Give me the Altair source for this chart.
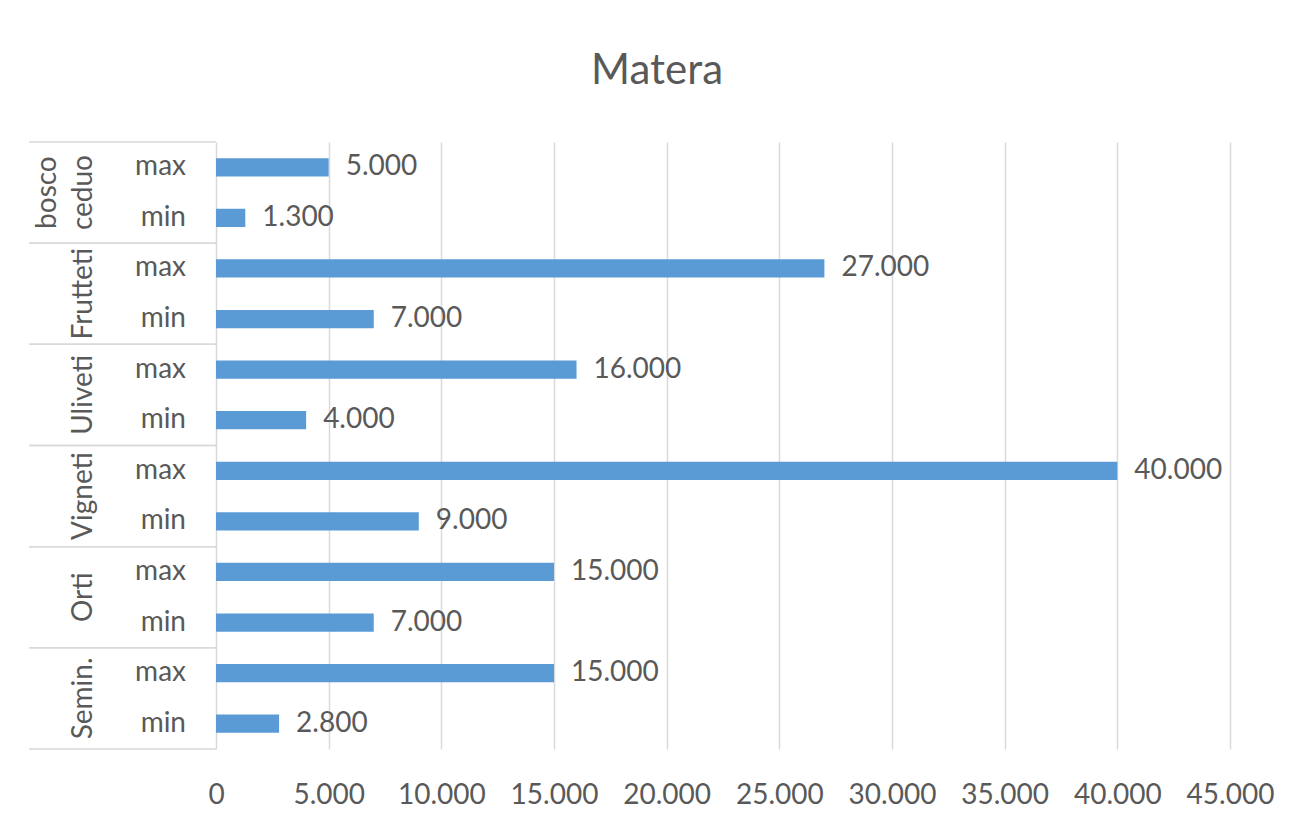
import altair as alt
import pandas as pd

groups = ["bosco ceduo", "Frutteti", "Uliveti", "Vigneti", "Orti", "Semin."]
levels = ["max", "min"]
max_vals = [5000, 27000, 16000, 40000, 15000, 15000]
min_vals = [1300, 7000, 4000, 9000, 7000, 2800]
x_ticks = [0, 5000, 10000, 15000, 20000, 25000, 30000, 35000, 40000, 45000]

rows = []
for g, mx, mn in zip(groups, max_vals, min_vals):
    rows.append({"group": g, "level": "max", "row": g + "|max", "value": mx})
    rows.append({"group": g, "level": "min", "row": g + "|min", "value": mn})
df = pd.DataFrame(rows)
row_order = list(df["row"])

# group names split into wrapped lines (last line sits next to the level labels)
gl = []
for g in groups:
    parts = g.split(" ")
    gl.append({"group": g, "first": " ".join(parts[:-1]), "last": parts[-1]})
gdf = pd.DataFrame(gl)

FONT = "Lato"
TXT = "#595959"
GRID = "#d9d9d9"
H = 607
FS = 28

fmt = "replace(format(datum.value, ','), ',', '.')"

# ---- left panel: multi-level category axis ----
left_w = 187
y_rows = alt.Y("row:N", sort=row_order, axis=None,
               scale=alt.Scale(paddingInner=0, paddingOuter=0))


def y_grp(bp=0.5):
    return alt.Y("group:N", sort=groups, axis=None, bandPosition=bp,
                 scale=alt.Scale(paddingInner=0, paddingOuter=0))


level_text = alt.Chart(df).mark_text(
    align="right", baseline="middle", font=FONT, fontSize=FS, color=TXT
).encode(y=y_rows, x=alt.value(157), text="level:N")

group_last = alt.Chart(gdf).mark_text(
    align="center", baseline="bottom", angle=270, font=FONT, fontSize=FS,
    color=TXT
).encode(y=y_grp(), x=alt.value(69), text="last:N")

group_first = alt.Chart(gdf).mark_text(
    align="center", baseline="bottom", angle=270, font=FONT, fontSize=FS,
    color=TXT
).encode(y=y_grp(), x=alt.value(33), text="first:N")

sep_top = alt.Chart(gdf).mark_rule(color=GRID, strokeWidth=1.5).encode(
    y=y_grp(0), x=alt.value(0), x2=alt.value(left_w))
sep_bot = alt.Chart(gdf).mark_rule(color=GRID, strokeWidth=1.5).encode(
    y=y_grp(1), x=alt.value(0), x2=alt.value(left_w))

left = alt.layer(sep_top, sep_bot, group_first, group_last, level_text).resolve_scale(
    y="independent").properties(width=left_w, height=H)

# ---- right panel: bars ----
base = alt.Chart(df).transform_calculate(
    label="replace(format(datum.value, ','), ',', '.')")

ybar = alt.Y("row:N", sort=row_order,
             scale=alt.Scale(paddingInner=0.64, paddingOuter=0.32),
             axis=None)
xbar = alt.X("value:Q", scale=alt.Scale(domain=[0, 45000], nice=False),
             axis=alt.Axis(values=x_ticks, title=None, domain=False, ticks=False,
                           grid=True, gridColor=GRID, gridWidth=1.5,
                           labelExpr=fmt, labelFont=FONT, labelFontSize=FS,
                           labelColor=TXT, labelPadding=32, labelFlush=False))

bars = base.mark_bar(color="#5B9BD5").encode(x=xbar, y=ybar)
labels = base.mark_text(align="left", baseline="middle", dx=17, font=FONT,
                        fontSize=FS, color=TXT).encode(
    x="value:Q", y=alt.Y("row:N", sort=row_order), text="label:N")

right = alt.layer(bars, labels).properties(width=1014, height=H)

chart = alt.hconcat(left, right, spacing=0, bounds="flush").properties(
    title=alt.Title("Matera", font=FONT, fontSize=42, color=TXT,
                    fontWeight="normal", anchor="middle", dx=6, offset=48),
    padding={"left": 20, "top": 42, "right": 10, "bottom": 10},
).configure_view(stroke=None).configure_concat(spacing=0)

chart.save("out.html", embed_options={"renderer": "svg", "actions": False})
